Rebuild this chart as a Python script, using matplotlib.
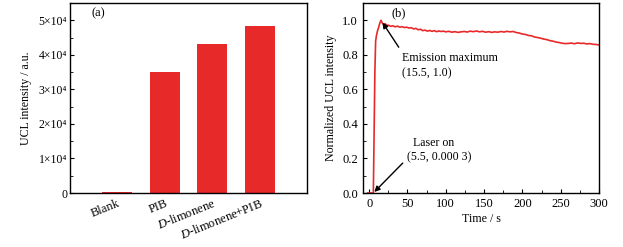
import matplotlib
matplotlib.use("Agg")
import matplotlib.pyplot as plt
from matplotlib.ticker import MultipleLocator, FuncFormatter

plt.rcParams['font.family'] = ['Liberation Serif', 'DejaVu Serif']
plt.rcParams['mathtext.fontset'] = 'custom'
plt.rcParams['mathtext.rm'] = 'Liberation Serif'
plt.rcParams['mathtext.it'] = 'Liberation Serif:italic'
plt.rcParams['font.size'] = 9

# panel (a) data
samples = ["Blank", "PIB", r"$\it{D}$-limonene", r"$\it{D}$-limonene+PIB"]
ucl_intensity = [250, 34900, 43000, 48300]

# panel (b) data
time_s = [-2, 0, 3, 5.5, 6.5, 7.5, 8.5, 9.5, 11, 12.5, 14, 15.5, 17, 19, 21, 23, 25,
          28, 31, 34, 37, 40, 43, 46, 49, 52, 55, 58, 61, 64, 67, 70, 73, 76, 79,
          82, 85, 88, 91, 94, 97, 100, 104, 108, 112, 116, 120, 124, 128, 132, 136,
          140, 144, 148, 152, 156, 160, 164, 168, 172, 176, 180, 184, 188, 192, 196,
          200, 204, 208, 212, 216, 220, 224, 228, 232, 236, 240, 244, 248, 252, 256,
          260, 264, 268, 272, 276, 280, 284, 288, 292, 296, 300]
norm_int = [0.0, 0.0, 0.0, 0.0003, 0.35, 0.7, 0.88, 0.91, 0.94, 0.96, 0.985, 1.0, 0.985,
            0.975, 0.98, 0.97, 0.972, 0.965, 0.968, 0.962, 0.966, 0.96, 0.963, 0.958,
            0.96, 0.955, 0.957, 0.95, 0.953, 0.945, 0.948, 0.94, 0.943, 0.937, 0.941,
            0.936, 0.94, 0.934, 0.938, 0.935, 0.937, 0.933, 0.936, 0.931, 0.934, 0.93,
            0.933, 0.935, 0.932, 0.937, 0.934, 0.938, 0.933, 0.936, 0.931, 0.934, 0.93,
            0.933, 0.931, 0.935, 0.932, 0.936, 0.933, 0.935, 0.929, 0.926, 0.92, 0.918,
            0.912, 0.91, 0.903, 0.9, 0.896, 0.891, 0.888, 0.882, 0.879, 0.874, 0.871,
            0.867, 0.865, 0.866, 0.868, 0.864, 0.869, 0.866, 0.867, 0.863, 0.865,
            0.861, 0.86, 0.857]

red = "#E8292A"

fig = plt.figure(figsize=(6.23, 2.47), dpi=100)
ax1 = fig.add_axes([70 / 623, 54 / 247, 237 / 623, 190 / 247])
ax2 = fig.add_axes([363 / 623, 54 / 247, 236 / 623, 190 / 247])

# (a) bar chart
ax1.bar(range(len(samples)), ucl_intensity, width=0.63, color=red)
ax1.set_xlim(-1, 4)
ax1.set_ylim(0, 55000)
ax1.set_xticks(range(len(samples)))
ax1.set_xticklabels(samples, rotation=22, ha='right', rotation_mode='anchor',
                    fontsize=9)
ax1.yaxis.set_major_locator(MultipleLocator(10000))
ax1.yaxis.set_minor_locator(MultipleLocator(5000))
ax1.yaxis.set_major_formatter(FuncFormatter(
    lambda v, p: "0" if v == 0 else "%d×10⁴" % round(v / 10000)))
ax1.tick_params(axis='y', direction='in', length=3, labelsize=8.5, pad=2)
ax1.tick_params(axis='y', which='minor', direction='in', length=2)
ax1.tick_params(axis='x', length=0, pad=3)
ax1.set_ylabel("UCL intensity / a.u.", fontsize=8.6, labelpad=5)
ax1.text(0.09, 0.93, "(a)", transform=ax1.transAxes, fontsize=9)

# (b) time trace
ax2.plot(time_s, norm_int, color=red, lw=1.2)
ax2.set_xlim(-8, 300)
ax2.set_ylim(0, 1.1)
ax2.xaxis.set_major_locator(MultipleLocator(50))
ax2.xaxis.set_minor_locator(MultipleLocator(25))
ax2.yaxis.set_major_locator(MultipleLocator(0.2))
ax2.yaxis.set_minor_locator(MultipleLocator(0.1))
ax2.yaxis.set_major_formatter(FuncFormatter(lambda v, p: "%.1f" % v))
ax2.tick_params(which='major', direction='in', length=3, labelsize=9)
ax2.tick_params(which='minor', direction='in', length=2)
ax2.set_xlabel("Time / s", labelpad=2, fontsize=8.6)
ax2.set_ylabel("Normalized UCL intensity", fontsize=8.6, labelpad=4)
ax2.text(0.12, 0.93, "(b)", transform=ax2.transAxes, fontsize=9)

ax2.annotate("Emission maximum\n(15.5, 1.0)", xy=(15.5, 1.0), xytext=(43, 0.66),
             ha='left', va='bottom', linespacing=1.3, fontsize=8.6,
             arrowprops=dict(arrowstyle='-|>', color='black', lw=1,
                             mutation_scale=8, shrinkB=2,
                             relpos=(0.0, 1.0)))
ax2.annotate("  Laser on\n(5.5, 0.000 3)", xy=(5.5, 0.0003), xytext=(50, 0.17),
             ha='left', va='bottom', linespacing=1.3, fontsize=8.6,
             arrowprops=dict(arrowstyle='-|>', color='black', lw=1,
                             mutation_scale=8, shrinkB=1,
                             relpos=(0.0, 0.2)))

for ax in (ax1, ax2):
    for s in ax.spines.values():
        s.set_linewidth(1.0)

fig.savefig("out.png", dpi=100)
